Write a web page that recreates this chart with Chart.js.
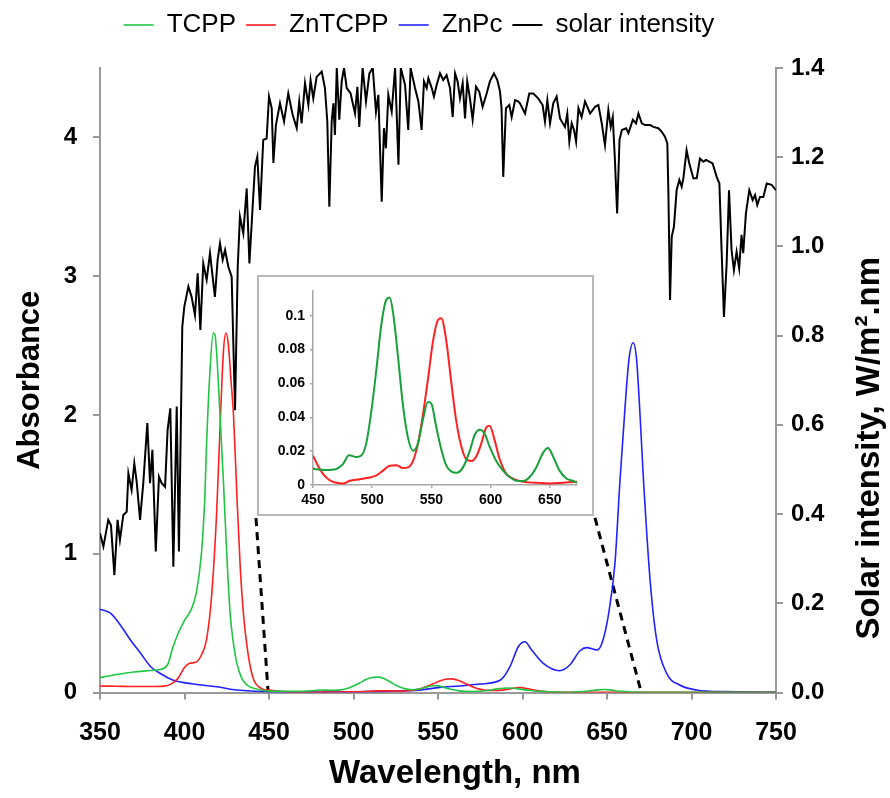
<!DOCTYPE html>
<html>
<head>
<meta charset="utf-8">
<script src="https://cdn.jsdelivr.net/npm/chart.js@4.4.0/dist/chart.umd.min.js"></script>
<style>
  html, body { margin: 0; padding: 0; background: #fff; }
  #wrap { position: relative; width: 890px; height: 798px; }
  #main { display: block; }
  #inset { position: absolute; left: 257px; top: 275px; width: 333px; height: 237px; border: 2px solid #b8b8b8; background: #fff; }
  #zoom { display: block; }
</style>
</head>
<body>
<div id="wrap">
  <canvas id="main" width="890" height="798"></canvas>
  <div id="inset"><canvas id="zoom" width="333" height="237"></canvas></div>
</div>
<script>
var series = ['TCPP', 'ZnTCPP', 'ZnPc', 'solar intensity'];
var colores = ['#22c444', '#ff2020', '#2222ff', '#000000'];
var colorInsetTcpp = '#17a03c';

// absorbance, wavelength in nm
var tcppNm = [350,360,370,380,385,390,393,396,400,404,407,410,412,413,415,417,418,419,421,423,425,427,429,431,434,437,441,445,
  450,461,469.7,475.3,480.4,486.6,490.8,495,499.3,503.5,507.7,511.9,514.8,517.6,521.8,526,530.2,534.5,538.7,542.9,547.1,550,
  554.2,558.4,562.6,566.8,571,576.7,582.3,586.5,590.8,595,599.2,604.8,610.5,616.1,621.7,627.4,633,638.6,644.3,648.5,652.7,
  658.3,664,669.6,673,690,750];
var tcppAbs = [0.107,0.13,0.148,0.158,0.165,0.2,0.32,0.42,0.52,0.6,0.72,1.0,1.4,1.77,2.3,2.59,2.58,2.45,2.0,1.53,1.0,0.57,0.35,0.21,0.1,0.054,0.03,0.018,
  0.0098,0.0089,0.0095,0.0123,0.0176,0.0165,0.0174,0.0246,0.0436,0.068,0.0947,0.1095,0.1108,0.102,0.0758,0.047,0.028,0.0203,0.0246,0.0388,0.049,0.048,
  0.034,0.021,0.0114,0.008,0.0072,0.0104,0.0199,0.0294,0.0326,0.0303,0.0227,0.0142,0.0085,0.0047,0.0025,0.0023,0.0047,0.0104,0.019,0.0218,0.017,
  0.0085,0.0038,0.0025,0.0015,0.002,0.002];

var zntcppNm = [350,360,370,380,388,392,396,400,403,407,410,413,416,419,421,423,424.5,426,427.5,429,431,433,435,437,439,441,444,447,
  450,454.2,458.4,464.1,469.7,475.3,481,489.4,497.9,503.5,509.1,514.8,520.4,526,530.2,534.5,538.7,542.9,547.1,551.4,555.6,558.4,
  562.6,566.8,571,575.3,579.5,583.7,588,592.2,596.4,599.2,603.4,607.7,613.3,618.9,627.4,638.6,649.9,661.1,673,690,750];
var zntcppAbs = [0.047,0.045,0.043,0.043,0.046,0.06,0.1,0.18,0.21,0.22,0.27,0.38,0.69,1.29,1.9,2.45,2.59,2.5,2.25,2.0,1.42,0.9,0.55,0.33,0.18,0.09,0.04,0.02,
  0.017,0.0114,0.0066,0.0028,0.0013,0.0009,0.0025,0.0034,0.0044,0.0057,0.0085,0.0114,0.0117,0.010,0.0104,0.0142,0.0246,0.0417,0.0625,0.0852,0.0975,0.0985,
  0.0852,0.0606,0.0379,0.0227,0.0152,0.0142,0.017,0.0246,0.0341,0.035,0.0265,0.0152,0.0066,0.0038,0.0019,0.0013,0.0009,0.0013,0.0019,0.002,0.002];

var znpcNm = [350,356,362,368,374,380,386,393,405,419,431,449,480,510,530,540,551,563,575,587,592.6,597.5,601.5,605.4,612.3,622,628,634,638,644,647,651,
  654.7,657.7,660.7,663,665.5,667.5,669.5,671.6,675.5,679.4,685.3,693,703,717,750];
var znpcAbs = [0.60,0.573,0.487,0.378,0.283,0.186,0.135,0.09,0.061,0.042,0.018,0.006,0.004,0.006,0.012,0.018,0.037,0.047,0.061,0.09,0.186,0.33,0.366,0.306,0.21,0.157,0.198,0.301,0.323,0.306,0.355,0.571,
  0.93,1.53,2.06,2.4,2.52,2.4,2.01,1.53,0.81,0.378,0.138,0.054,0.018,0.006,0.004];

// solar intensity, W/m2.nm
var solarNm = [350,352,354.9,356.5,358.5,360.4,361.8,363.8,365.8,366.8,368.7,370.3,371.7,373.7,375.6,378,379.6,381,383,384.9,386.5,388.5,390,391.6,393.4,395.4,396.7,398.7,399.9,
  402.3,404.2,406.2,407.8,409.4,411.1,413.1,415.1,416.4,418,419.6,421,422.6,424,425.9,427.9,429.9,431.5,432.8,434.8,436.8,438.4,440.1,441.7,443.1,444.7,446.6,448.6,
  450,451.6,452.6,454.1,456.5,458.9,461.4,464,466.4,467.9,469.3,471.3,473.3,474.6,476.2,478.2,481.2,483.1,484.5,485.7,487.1,488.1,489,490.1,491.6,493,494.4,496,498.3,
  500.9,502.3,503.4,505.4,507.4,509.4,511.4,513.3,514.7,516.7,518,519.2,520.6,522.6,524.6,526.6,528,530.5,532.4,533.8,536.4,538.4,540.3,541.7,543.3,544.3,546.3,547.6,549.2,
  551.2,553.1,555.1,557.1,558.7,560.1,561.6,563,564.6,566,567.3,568.9,570.5,572.5,574.4,576.4,578.8,580.7,583.1,585.1,586.7,587.6,588.6,590.2,592.2,593.6,595.6,597.5,
  598.5,601.5,604,606.4,609.3,611.9,613.3,614.7,616.3,618.2,620.2,622.2,625.1,626.5,627.7,629.1,630.5,631.7,633.1,635,637,640,642.9,644.9,646.9,648.8,650.8,652.2,653.4,
  654.6,656,657.4,658.8,661.3,662.7,665.3,667.2,668.6,670.6,672.5,675.5,677.5,680.4,682.4,684.3,685.7,686.3,687.3,688.3,689.6,691.2,692.8,694.2,695.2,697.1,698.7,
  701.1,703.1,705,707,708.6,710.5,712.5,714.9,716.5,717.8,719.2,720.8,722.2,723.7,725.1,726.7,728.2,729.6,730.6,732.2,734.2,736.2,737.6,738.9,740.5,742.5,744.5,747.4,750];
var solarVal = [0.357,0.327,0.387,0.375,0.263,0.387,0.342,0.398,0.405,0.491,0.454,0.514,0.473,0.387,0.469,0.604,0.469,0.544,0.316,0.484,0.469,0.461,0.589,0.637,0.282,0.641,0.316,0.82,0.865,
  0.91,0.887,0.846,0.94,0.813,0.962,0.925,0.985,0.94,0.887,0.97,1.007,0.97,0.992,0.955,0.932,0.633,0.955,1.067,1.029,1.13,0.962,1.074,1.179,1.201,1.082,1.239,1.242,
  1.336,1.31,1.187,1.272,1.321,1.28,1.343,1.295,1.265,1.325,1.276,1.366,1.317,1.373,1.332,1.38,1.392,1.355,1.28,1.089,1.28,1.321,1.25,1.40,1.284,1.37,1.40,1.355,1.343,
  1.298,1.358,1.268,1.40,1.325,1.388,1.40,1.302,1.34,1.10,1.265,1.22,1.34,1.302,1.40,1.183,1.40,1.362,1.261,1.40,1.355,1.325,1.261,1.37,1.355,1.377,1.355,1.336,1.362,
  1.388,1.373,1.384,1.355,1.29,1.388,1.37,1.332,1.366,1.287,1.37,1.332,1.284,1.358,1.347,1.313,1.343,1.37,1.388,1.373,1.347,1.31,1.156,1.31,1.317,1.29,1.328,1.325,
  1.321,1.298,1.343,1.343,1.332,1.317,1.28,1.328,1.276,1.321,1.336,1.287,1.268,1.298,1.235,1.276,1.261,1.235,1.31,1.29,1.325,1.298,1.313,1.317,1.276,1.227,1.306,1.268,1.29,
  1.201,1.074,1.239,1.261,1.265,1.254,1.284,1.276,1.298,1.276,1.272,1.272,1.268,1.265,1.257,1.246,1.231,1.126,0.88,1.022,1.044,1.126,1.149,1.134,1.153,1.216,1.186,
  1.153,1.153,1.197,1.19,1.194,1.19,1.186,1.156,1.141,0.992,0.842,0.962,1.126,0.992,0.947,0.988,0.951,1.026,0.985,1.074,1.126,1.104,1.115,1.093,1.111,1.111,1.141,1.138,1.126];

// dashed guides from the inset down to the zoomed range
var guideLeftNm = [442.3, 449.5];
var guideLeftAbs = [1.256, 0];
var guideRightNm = [642.9, 670.3];
var guideRightAbs = [1.258, 0];

var fuente = '"Liberation Sans", Arial, sans-serif';
Chart.defaults.font.family = fuente;
Chart.defaults.color = '#000';

function pts(xs, ys) {
  var out = [];
  for (var i = 0; i < xs.length; i++) {
    out.push({x: xs[i], y: ys[i]});
  }
  return out;
}

function curva(label, xs, ys, color, ancho, eje) {
  return {
    label: label,
    data: pts(xs, ys),
    borderColor: color,
    backgroundColor: color,
    borderWidth: ancho,
    pointRadius: 0,
    fill: false,
    yAxisID: eje || 'y',
    cubicInterpolationMode: 'monotone'
  };
}

function guia(xs, ys) {
  return {
    label: 'guide',
    data: pts(xs, ys),
    borderColor: '#000',
    borderWidth: 3,
    borderDash: [8, 6],
    pointRadius: 0,
    fill: false,
    yAxisID: 'y'
  };
}

var eje = { color: '#9a9a9a', width: 2 };
var rejilla = { drawOnChartArea: false, drawTicks: true, tickLength: 7, color: '#9a9a9a', lineWidth: 2 };
var tickFont = { size: 24, weight: 'bold' };

// extra room under the legend, and move it a little to the left
var legendSpace = {
  id: 'legendSpace',
  beforeInit: function(chart) {
    var fit = chart.legend.fit;
    chart.legend.fit = function() {
      fit.call(this);
      this.height += 20;
    };
  },
  afterLayout: function(chart) {
    chart.legend.left -= 26;
    chart.legend.right -= 26;
  }
};

// axis titles drawn by hand: x title sits right of centre, right title reads bottom to top
var axisTitles = {
  id: 'axisTitles',
  afterDraw: function(chart) {
    var ctx = chart.ctx;
    var s = chart.scales.y1;
    var a = chart.chartArea;
    ctx.save();
    ctx.font = 'bold 33px ' + fuente;
    ctx.fillStyle = '#000';
    ctx.textAlign = 'center';
    ctx.textBaseline = 'middle';
    ctx.fillText('Wavelength, nm', (a.left + a.right) / 2 + 17, chart.height - 24);
    ctx.translate(s.right - 20, (s.top + s.bottom) / 2 + 68);
    ctx.rotate(-Math.PI / 2);
    ctx.fillText('Solar intensity, W/m\u00b2.nm', 0, 0);
    ctx.restore();
  }
};

var solar = curva(series[3], solarNm, solarVal, colores[3], 2, 'y1');
solar.cubicInterpolationMode = 'default';
solar.tension = 0;

new Chart(document.getElementById('main'), {
  type: 'line',
  data: {
    datasets: [
      curva(series[0], tcppNm, tcppAbs, colores[0], 1.6),
      curva(series[1], zntcppNm, zntcppAbs, colores[1], 1.6),
      curva(series[2], znpcNm, znpcAbs, colores[2], 1.6),
      solar,
      guia(guideLeftNm, guideLeftAbs),
      guia(guideRightNm, guideRightAbs)
    ]
  },
  options: {
    responsive: false,
    animation: false,
    layout: { padding: { top: 2 } },
    plugins: {
      legend: {
        position: 'top',
        labels: {
          usePointStyle: true,
          pointStyle: 'line',
          pointStyleWidth: 30,
          padding: 10,
          color: '#000',
          font: { size: 26 },
          filter: function(item) { return item.datasetIndex < 4; }
        }
      },
      tooltip: { enabled: false }
    },
    scales: {
      x: {
        type: 'linear',
        min: 350,
        max: 750,
        afterFit: function(s) { s.height = 105.5; },
        ticks: { stepSize: 50, font: { size: 25, weight: 'bold' }, padding: 19, maxRotation: 0 },
        grid: rejilla,
        border: eje
      },
      y: {
        position: 'left',
        min: 0,
        max: 4.5,
        afterFit: function(s) { s.width = 100; },
        ticks: { stepSize: 1, includeBounds: false, font: tickFont, padding: 16 },
        grid: rejilla,
        border: eje,
        title: { display: true, text: 'Absorbance', font: { size: 31, weight: 'bold' }, padding: { top: 12, bottom: 0 } }
      },
      y1: {
        position: 'right',
        min: 0,
        max: 1.4,
        afterFit: function(s) { s.width = 114; },
        ticks: { stepSize: 0.2, font: tickFont, padding: 8, callback: function(v) { return v.toFixed(1); } },
        grid: rejilla,
        border: eje
      }
    }
  },
  plugins: [legendSpace, axisTitles]
});

// inset: same spectra, 450-673 nm
var insetTcpp = curva(series[0], tcppNm, tcppAbs, colorInsetTcpp, 2);
var insetZn = curva(series[1], zntcppNm, zntcppAbs, colores[1], 2);
var ejeInset = { color: '#a8a8a8', width: 1.5 };
var rejillaInset = { drawOnChartArea: false, drawTicks: true, tickLength: 3, color: '#a8a8a8', lineWidth: 1.5 };
var tickInset = { size: 14, weight: 'bold' };

new Chart(document.getElementById('zoom'), {
  type: 'line',
  data: { datasets: [insetTcpp, insetZn] },
  options: {
    responsive: false,
    animation: false,
    layout: { padding: { top: 5, right: 15 } },
    plugins: { legend: { display: false }, tooltip: { enabled: false } },
    scales: {
      x: {
        type: 'linear',
        min: 450,
        max: 673,
        afterFit: function(s) { s.height = 29; },
        ticks: { stepSize: 50, includeBounds: false, font: tickInset, padding: 4, maxRotation: 0 },
        grid: rejillaInset,
        border: ejeInset
      },
      y: {
        min: 0,
        max: 0.115,
        afterFit: function(s) { s.width = 54; },
        ticks: {
          stepSize: 0.02,
          includeBounds: false,
          font: tickInset,
          padding: 5,
          callback: function(v) { return String(Number(v.toFixed(2))); }
        },
        grid: rejillaInset,
        border: ejeInset
      }
    }
  }
});
</script>
</body>
</html>
